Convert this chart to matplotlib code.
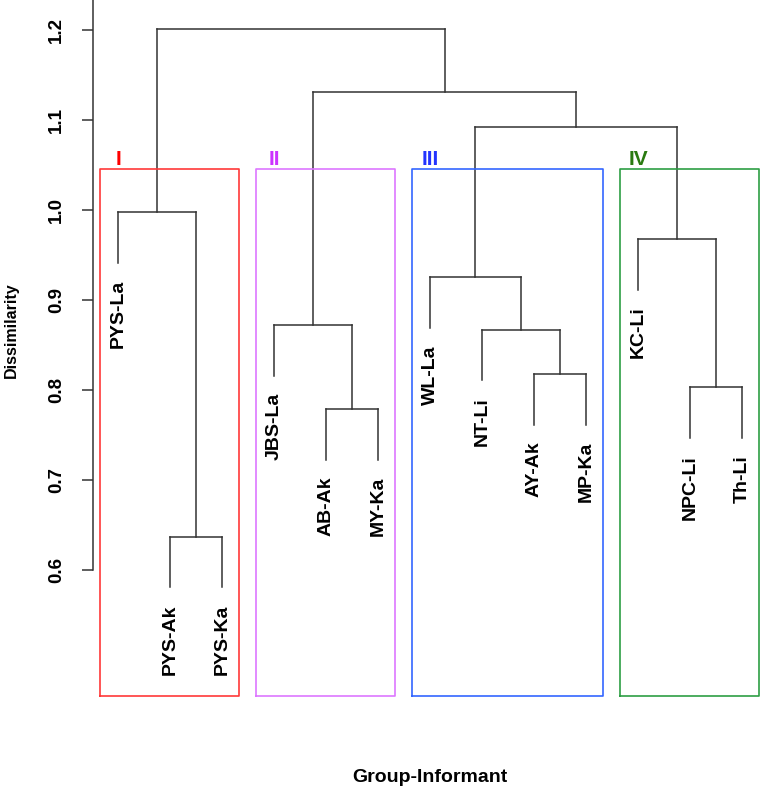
import matplotlib
matplotlib.use("Agg")
import matplotlib.pyplot as plt

plt.rcParams['font.family'] = ['Liberation Sans', 'DejaVu Sans']
plt.rcParams['font.weight'] = 'bold'

# leaves in plotting order
labels = ["PYS-La", "PYS-Ak", "PYS-Ka", "JBS-La", "AB-Ak", "MY-Ka", "WL-La",
          "NT-Li", "AY-Ak", "MP-Ka", "KC-Li", "NPC-Li", "Th-Li"]

# merges: left child, right child, height (leaves 0-12, new nodes from 13 on)
left_child = [1, 4, 11, 8, 7, 3, 6, 10, 0, 19, 18, 21]
right_child = [2, 5, 12, 9, 16, 14, 17, 15, 13, 20, 22, 23]
heights = [0.637, 0.779, 0.803, 0.818, 0.867, 0.872, 0.925, 0.968, 0.998,
           1.0926, 1.131, 1.201]

# clusters (first leaf, last leaf)
group_names = ["I", "II", "III", "IV"]
group_first = [0, 3, 6, 10]
group_last = [2, 5, 9, 12]
box_colors = ["#FF3838", "#DD77FF", "#3366FF", "#2E9E44"]
text_colors = ["#FF0000", "#CC33FF", "#2233FF", "#2A7A10"]

yticks = [0.6, 0.7, 0.8, 0.9, 1.0, 1.1, 1.2]

n = len(labels)
hang = 0.1 * (max(heights) - min(heights))

fig = plt.figure(figsize=(7.62, 7.94), dpi=100)
ax = fig.add_axes([93 / 762, 98 / 794, 669 / 762, 696 / 794])
ax.set_xlim(0.519, 13.385)
ax.set_ylim(0.46, 1.2333)

xpos = {i: i + 1 for i in range(n)}
ypos = {i: None for i in range(n)}
lc = "#333333"
lw = 1.1
for k in range(len(heights)):
    node = n + k
    a, b, h = left_child[k], right_child[k], heights[k]
    for c in (a, b):
        yb = ypos[c] if ypos[c] is not None else h - hang
        ax.plot([xpos[c], xpos[c]], [yb, h], color=lc, lw=lw)
        if ypos[c] is None:
            ax.text(xpos[c], yb - 0.019, labels[c], rotation=90, ha='center',
                    va='top', fontsize=14, fontweight='bold')
    ax.plot([xpos[a], xpos[b]], [h, h], color=lc, lw=lw)
    xpos[node] = (xpos[a] + xpos[b]) / 2
    ypos[node] = h

# boxes like rect.hclust
srt = sorted(heights, reverse=True)
k = len(group_names)
top = (srt[k - 2] + srt[k - 1]) / 2
bottom = ax.get_ylim()[0]
for i in range(k):
    x0 = group_first[i] + 1 - 0.34
    x1 = group_last[i] + 1 + 0.33
    ax.plot([x0, x1, x1, x0, x0], [bottom, bottom, top, top, bottom],
            color=box_colors[i], lw=1.2, clip_on=False)
    ax.text(group_first[i] + 1, 1.05, group_names[i], color=text_colors[i],
            ha='center', va='baseline', fontsize=15, fontweight='bold')

for s in ['top', 'right', 'bottom']:
    ax.spines[s].set_visible(False)
ax.spines['left'].set_bounds(0.6, ax.get_ylim()[1])
ax.spines['left'].set_color(lc)
ax.spines['left'].set_linewidth(lw)
ax.set_xticks([])
ax.set_yticks(yticks)
ax.set_yticklabels([f"{v:.1f}" for v in yticks], rotation=90, va='center',
                   fontsize=13.5, fontweight='bold')
ax.tick_params(axis='y', length=8, width=lw, color=lc, pad=12)

fig.text(11 / 762, 1 - 330 / 794, "Dissimilarity", rotation=90, ha='center',
         va='center', fontsize=11.5, fontweight='bold')
fig.text(430 / 762, 1 - 777 / 794, "Group-Informant", ha='center', va='center',
         fontsize=14, fontweight='bold')

fig.savefig("out.png", dpi=100)
